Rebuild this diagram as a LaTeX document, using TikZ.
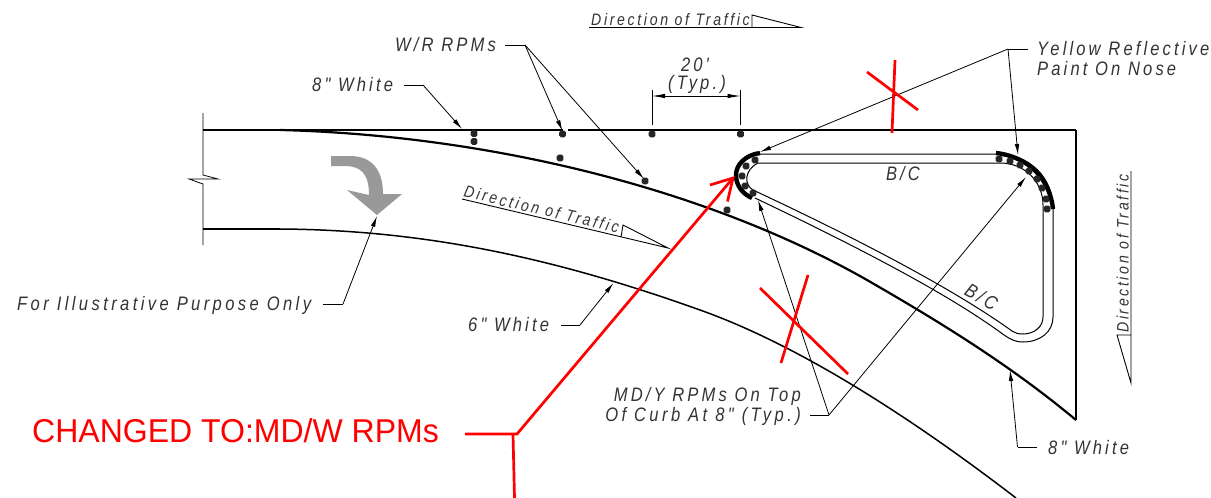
\documentclass[tikz,border=0pt]{standalone}
\usepackage{fontspec}
\setmainfont{Liberation Sans}
\newfontfamily\cadfont[LetterSpace=16,FakeStretch=0.85,ItalicFont={* Italic}]{Liberation Sans}
\newfontfamily\cadwide[LetterSpace=17.4,FakeStretch=0.85,ItalicFont={* Italic}]{Liberation Sans}
\newfontfamily\redfont[FakeStretch=0.97]{Liberation Sans}
\usetikzlibrary{arrows.meta}
\tikzset{
 lbl/.style={font=\cadfont\itshape\fontsize{19.5}{20}\selectfont,inner sep=0pt,text=black!80},
 widelbl/.style={lbl,font=\cadwide\itshape\fontsize{19.5}{20}\selectfont},
 smalllbl/.style={lbl,font=\cadfont\itshape\fontsize{16.6}{18}\selectfont},
 lead/.style={draw=black,line width=0.8pt},
 leadarrow/.style={lead,-{Latex[length=11pt,width=4.5pt]}},
 road/.style={draw=black,line width=2.2pt},
 curb/.style={draw=black,line width=1pt},
 noseband/.style={draw=black,line width=4.4pt},
 rpm/.style={rectangle,rounded corners=1.8pt,fill=black!85,inner sep=0pt,minimum size=6.8pt},
 redmark/.style={draw=red,line width=2.7pt},
 flag/.style={draw=black,line width=0.9pt}
}
\begin{document}
\begin{tikzpicture}[x=1pt,y=-1pt]
\useasboundingbox (0,0) rectangle (1211,498);
% road edges
\draw[road] (203,130) -- (563,130);
\draw[road] (568,130) -- (1076,130);
\draw[draw=black,line width=1.6pt] (1076,130) -- (1076,420);
\draw[road] (280,130) .. controls (480,135) and (700,185) .. (867,280) .. controls (940,322) and (1010,365) .. (1076,420);
\draw[road] (203,229) -- (280,229);
\draw[draw=black,line width=1.5pt] (280,229) .. controls (430,230) and (560,260) .. (700,310) .. controls (810,349) and (930,432) .. (1016,498);
% break line
\draw[lead] (203,113) -- (203,175) -- (218,179) -- (189,179) -- (203,184) -- (203,245);
% turn arrow
\fill[black!40] (331,156) -- (350,156) .. controls (372,156) and (383,170) .. (383,194) -- (402,194) -- (377,215) -- (347,190) -- (369,195) .. controls (369,175) and (362,166) .. (345,166) -- (331,166) -- cycle;
% island
\draw[curb] (760,154) -- (997,154) .. controls (1030,154) and (1053,178) .. (1053,208) -- (1053,317) .. controls (1053,332) and (1040,342) .. (1023,342) .. controls (1015,342) and (1010,339) .. (1004,335) .. controls (950,295) and (860,248) .. (755,198);
\draw[curb] (758,163) -- (1000,163) .. controls (1025,163) and (1043,182) .. (1043,205) -- (1043,317) .. controls (1043,327) and (1034,334) .. (1023,334) .. controls (1018,334) and (1015,333) .. (1012,331) .. controls (955,290) and (860,240) .. (753,190) .. controls (744,185) and (744,170) .. (758,163);
\draw[noseband] (760,153) .. controls (745,155) and (736,165) .. (736,175) .. controls (736,186) and (743,194) .. (752,198);
\draw[noseband] (996,153) .. controls (1030,157) and (1050,180) .. (1053,209);
% RPMs
\foreach \n/\a/\b in {a/474/133.5,b/474/141.5,c/562.5/134,d/652/134,e/740.5/134,f/560/158,g/645/181,h/727/210,
 i/755/160,j/746/166,k/742/176,l/745/186,m/753/193,
 o/999/159,p/1010/161,q/1020/165,r/1029/171,s/1037/179,t/1042/188,u/1046/199,v/1047/209}
 \node[rpm] (rpm\n) at (\a,\b) {};
% directions
\draw[flag] (589,27.5) -- (752,27.5) -- (752,15) -- (801,27.5) -- (752,27.5);
\node[smalllbl,anchor=base west] (dt1) at (591,25.5) {Direction of Traffic};
\draw[flag] (462,199) -- (668,248) -- (623,225) -- (621,237);
\node[smalllbl,anchor=base west,rotate=-13.4] (dt2) at (463,196.5) {Direction of Traffic};
\draw[flag] (1131,171) -- (1131,383) -- (1117,335) -- (1131,335);
\node[smalllbl,anchor=base west,rotate=90] (dt3) at (1128.5,333) {Direction of Traffic};
% dimension
\coordinate (d1a) at (652,90); \coordinate (d1b) at (652,125);
\coordinate (d2a) at (740.5,90); \coordinate (d2b) at (740.5,125);
\draw[lead] (d1a) -- (d1b); \draw[lead] (d2a) -- (d2b);
\draw[lead,{Latex[length=13pt,width=4.5pt]}-{Latex[length=13pt,width=4.5pt]}] (652,96) -- (740.5,96);
\node[lbl,anchor=base] (dim1) at (695,71) {20'};
\node[lbl,anchor=base] (dim2) at (697,89) {(Typ.)};
% labels and leaders
\node[lbl,anchor=base west] (wr) at (395,51) {W/R RPMs};
\coordinate (wrk) at (525,45);
\draw[lead] (505,45) -- (wrk);
\draw[leadarrow] (wrk) -- (562.5,131);
\draw[leadarrow] (wrk) -- (644,179);
\node[lbl,anchor=base west] (w8) at (312,91) {8" White};
\draw[lead] (404,85) -- (423,85);
\draw[leadarrow] (423,85) -- (462,129);
\node[lbl,anchor=base west] (yr1) at (1037,55) {Yellow Reflective};
\node[lbl,anchor=base west] (yr2) at (1037,75) {Paint On Nose};
\coordinate (yrk) at (1008,49);
\draw[lead] (1028,49) -- (yrk);
\draw[leadarrow] (yrk) -- (760,152);
\draw[leadarrow] (yrk) -- (1018,155);
\node[widelbl,anchor=base west] (fi) at (17,310) {For Illustrative Purpose Only};
\draw[lead] (323,304) -- (343,304);
\draw[leadarrow] (343,304) -- (377,216);
\node[lbl,anchor=base west] (w6) at (468,331.5) {6" White};
\draw[lead] (561,325) -- (580,325);
\draw[leadarrow] (580,325) -- (613.5,283);
\node[lbl,anchor=base east] (md1) at (801,401) {MD/Y RPMs On Top};
\node[widelbl,anchor=base east] (md2) at (801,421) {Of Curb At 8" (Typ.)};
\coordinate (mdk) at (829,415);
\draw[lead] (810,415) -- (mdk);
\draw[leadarrow] (mdk) -- (758,200);
\draw[leadarrow] (mdk) -- (1026,177);
\node[lbl,anchor=base west] (w8b) at (1048,454) {8" White};
\draw[lead] (1037,447) -- (1017.5,447);
\draw[leadarrow] (1017.5,447) -- (1010,370);
\node[lbl,inner sep=0pt] (bc1) at (903,174) {B/C};
\node[lbl,rotate=-29] (bc2) at (981.5,296.5) {B/C};
% red marks
\draw[redmark] (895,60) -- (892,133);
\draw[redmark] (867,72) -- (918,110);
\draw[redmark] (760,288) -- (848,374);
\draw[redmark] (808,275) -- (781,363);
\node[inner sep=0pt,anchor=base west,text=red,font=\redfont\fontsize{33}{36}\selectfont] (chg) at (32,442) {CHANGED TO:MD/W RPMs};
\coordinate (rk) at (517,434);
\draw[redmark] (465,434) -- (rk) -- (733,178);
\draw[redmark] (710,185) -- (733,178) -- (727.5,201.5);
\draw[redmark] (513,434) -- (514.5,498);
\end{tikzpicture}
\end{document}
